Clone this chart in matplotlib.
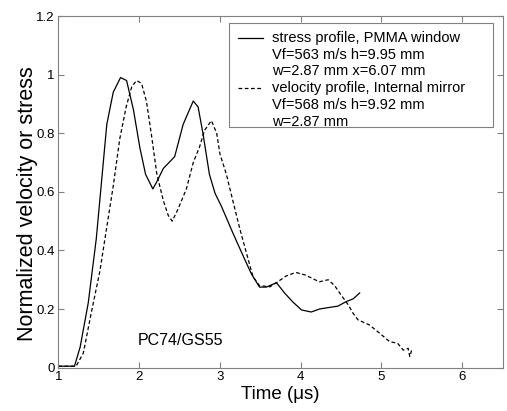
import matplotlib
matplotlib.use('Agg')
import matplotlib.pyplot as plt
from matplotlib.patches import Rectangle

# stress profile, PMMA window (solid)
stress_t = [1.0, 1.1, 1.2, 1.27, 1.37, 1.47, 1.60, 1.68, 1.77, 1.845, 1.93, 2.01, 2.08,
            2.17, 2.22, 2.30, 2.44, 2.545, 2.67, 2.73, 2.79, 2.87, 2.94, 3.02, 3.16,
            3.29, 3.39, 3.49, 3.575, 3.70, 3.80, 3.90, 4.01, 4.13, 4.23, 4.34, 4.46,
            4.56, 4.65, 4.73]
stress_v = [0.005, 0.005, 0.005, 0.07, 0.22, 0.44, 0.83, 0.94, 0.99, 0.98, 0.88, 0.75, 0.66,
            0.61, 0.635, 0.68, 0.72, 0.83, 0.91, 0.89, 0.80, 0.66, 0.595, 0.55, 0.46,
            0.38, 0.32, 0.275, 0.275, 0.29, 0.255, 0.225, 0.197, 0.19, 0.20, 0.205, 0.21,
            0.225, 0.235, 0.255]

# velocity profile, internal mirror (dashed)
vel_t = [1.0, 1.1, 1.22, 1.31, 1.41, 1.515, 1.60, 1.68, 1.76, 1.84, 1.91, 1.97, 2.03,
         2.09, 2.15, 2.22, 2.30, 2.36, 2.41, 2.48, 2.585, 2.67, 2.75, 2.81, 2.895, 2.96,
         3.00, 3.08, 3.16, 3.25, 3.33, 3.41, 3.49, 3.62, 3.70, 3.82, 3.94, 4.06, 4.23,
         4.34, 4.42, 4.50, 4.59, 4.65, 4.71, 4.85, 4.98, 5.10, 5.20, 5.27, 5.33, 5.35, 5.38]
vel_v = [0.005, 0.005, 0.005, 0.05, 0.19, 0.33, 0.48, 0.62, 0.78, 0.89, 0.96, 0.98, 0.97,
         0.91, 0.80, 0.66, 0.57, 0.52, 0.50, 0.54, 0.61, 0.70, 0.755, 0.81, 0.843, 0.80,
         0.73, 0.66, 0.57, 0.47, 0.39, 0.31, 0.28, 0.276, 0.29, 0.313, 0.325, 0.316, 0.293,
         0.30, 0.28, 0.248, 0.214, 0.185, 0.163, 0.146, 0.117, 0.089, 0.083, 0.06, 0.066, 0.038, 0.066]

stress_label = ['stress profile, PMMA window', 'Vf=563 m/s h=9.95 mm', 'w=2.87 mm x=6.07 mm']
vel_label = ['velocity profile, Internal mirror', 'Vf=568 m/s h=9.92 mm', 'w=2.87 mm']

plt.rcParams['font.family'] = ['Liberation Sans', 'DejaVu Sans']
GRAY = '#808080'
DASH = (0, (3, 2))

fig = plt.figure(figsize=(5.07, 4.11), dpi=100)
ax = fig.add_axes([0.115, 0.1054, 0.8765, 0.8556])

ax.plot(stress_t, stress_v, color='black', lw=0.9, ls='-')
ax.plot(vel_t, vel_v, color='black', lw=0.9, ls=DASH)

ax.set_xlim(1, 6.5)
ax.set_ylim(0, 1.2)
ax.set_xticks([1, 2, 3, 4, 5, 6])
ax.set_xticklabels(['1', '2', '3', '4', '5', '6'])
ax.set_yticks([0, 0.2, 0.4, 0.6, 0.8, 1.0, 1.2])
ax.set_yticklabels(['0', '0.2', '0.4', '0.6', '0.8', '1', '1.2'])
ax.tick_params(direction='in', top=True, right=True, labelsize=9.5, length=4,
               color=GRAY, pad=2.5)
for s in ax.spines.values():
    s.set_color(GRAY)
    s.set_linewidth(0.8)

ax.set_xlabel('Time (\u03bcs)', fontsize=13.5)
ax.xaxis.set_label_coords(0.5, -0.052)
ax.set_ylabel('Normalized velocity or stress', fontsize=15.5)
ax.yaxis.set_label_coords(-0.046, 0.466)

ax.text(1.985, 0.094, 'PC74/GS55', fontsize=11.5, va='center', ha='left')

# legend drawn by hand so the handle sits on the first line of each entry
ax.add_patch(Rectangle((0.384, 0.685), 0.594, 0.295, transform=ax.transAxes,
                       facecolor='white', edgecolor=GRAY, lw=0.8, zorder=5))
line_y = [0.9375, 0.888, 0.8425, 0.795, 0.7475, 0.698]
for i, txt in enumerate(stress_label + vel_label):
    ax.text(0.480, line_y[i], txt, transform=ax.transAxes, fontsize=10.5,
            va='center', ha='left', zorder=6)
ax.plot([0.405, 0.461], [line_y[0], line_y[0]], transform=ax.transAxes,
        color='black', lw=0.9, zorder=6)
ax.plot([0.405, 0.461], [line_y[3], line_y[3]], transform=ax.transAxes,
        color='black', lw=0.9, ls=DASH, zorder=6)

fig.savefig('out.png', dpi=100)
